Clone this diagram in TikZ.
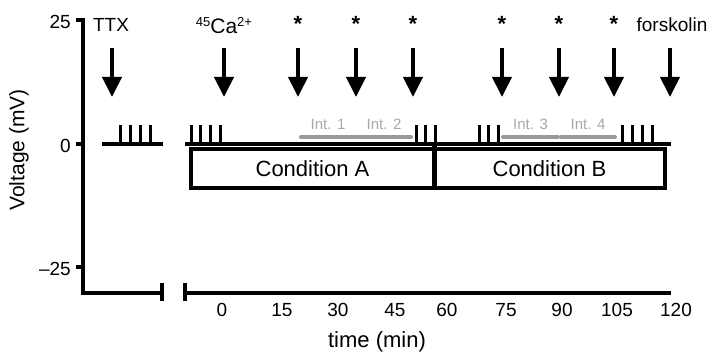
\documentclass[tikz,border=0pt]{standalone}
\usepackage{fontspec}
\setmainfont{Liberation Sans}
\usetikzlibrary{arrows.meta}
\definecolor{intgray}{gray}{0.6}
\definecolor{intlabel}{gray}{0.66}

\begin{document}
\begin{tikzpicture}[x=1pt,y=-1pt,
  font=\fontsize{19}{21}\selectfont,
  axis/.style={line width=4pt},
  trace/.style={line width=4pt},
  spike/.style={line width=3pt},
  drug/.style={line width=4pt,-{Triangle[width=19pt,length=20pt]}},
  intbar/.style={line width=4pt,line cap=round,draw=intgray},
  intlab/.style={text=intlabel,font=\fontsize{15}{16}\selectfont},
  cond/.style={draw,line width=4pt,minimum height=39pt,inner sep=0pt,font=\fontsize{22}{24}\selectfont},
]
  \useasboundingbox (0,0) rectangle (716,361);

  % axes
  \draw[axis] (83,18) -- (83,293) -- (162,293);
  \draw[axis] (185,293) -- (671,293);
  \draw[axis] (162,283) -- (162,301);
  \draw[axis] (185,283) -- (185,301);
  \foreach \v/\y [count=\i] in {25/20,0/144,{--25}/267} {
    \draw[axis] (76,\y) -- (83,\y);
    \node[anchor=east,inner sep=0pt] (ylab\i) at (71,\y+2) {\v};
  }
  \foreach \t/\x [count=\i] in {0/222,15/282,30/338,45/395,60/447,75/506,90/562,105/617,120/676}
    \node (xlab\i) at (\x,310) {\t};
  \node[rotate=90,font=\fontsize{21}{23}\selectfont] (ytitle) at (19,150) {Voltage (mV)};
  \node[font=\fontsize{22}{24}\selectfont] (xtitle) at (377,342) {time (min)};

  % drug applications
  \node (ttx) at (111,25) {TTX};
  \node (calc) at (224,26) {\fontsize{13}{15}\selectfont\raisebox{7pt}{45}\fontsize{21}{23}\selectfont Ca\fontsize{13}{15}\selectfont\raisebox{7pt}{2+}};
  \node (forsk) at (672,25) {forskolin};
  \foreach \x [count=\i] in {298,356,413,502,559,614}
    \node[font=\fontsize{22}{24}\selectfont\bfseries] (star\i) at (\x,24) {*};
  \foreach \x [count=\i] in {112,224,298,356,413,502,559,614,670} {
    \coordinate (top\i) at (\x,48);
    \coordinate (tip\i) at (\x,97);
    \draw[drug] (top\i) -- (tip\i);
  }

  % conditions
  \node[cond,minimum width=243pt] (condA) at (312.5,168.5) {Condition A};
  \node[cond,minimum width=231pt] (condB) at (549.5,168.5) {Condition B};
  \draw[line width=5pt] (434,144) -- (434,188);

  % recording traces
  \draw[trace] (102,144) -- (163,144);
  \draw[trace] (185,144) -- (671,144);
  \foreach \x in {120,130,140,150,191,200,210,220,416,425,435,479,488,498,622,632,642,652}
    \draw[spike] (\x,145) -- (\x,125);

  % intervals
  \foreach \a/\b/\n [count=\i] in {301/355/1,357/411/2,503/558/3,561/615/4} {
    \draw[intbar] (\a,137) -- (\b,137);
    \node[intlab] (int\i) at ({(\a+\b)/2},124) {Int. \n};
  }
\end{tikzpicture}
\end{document}
